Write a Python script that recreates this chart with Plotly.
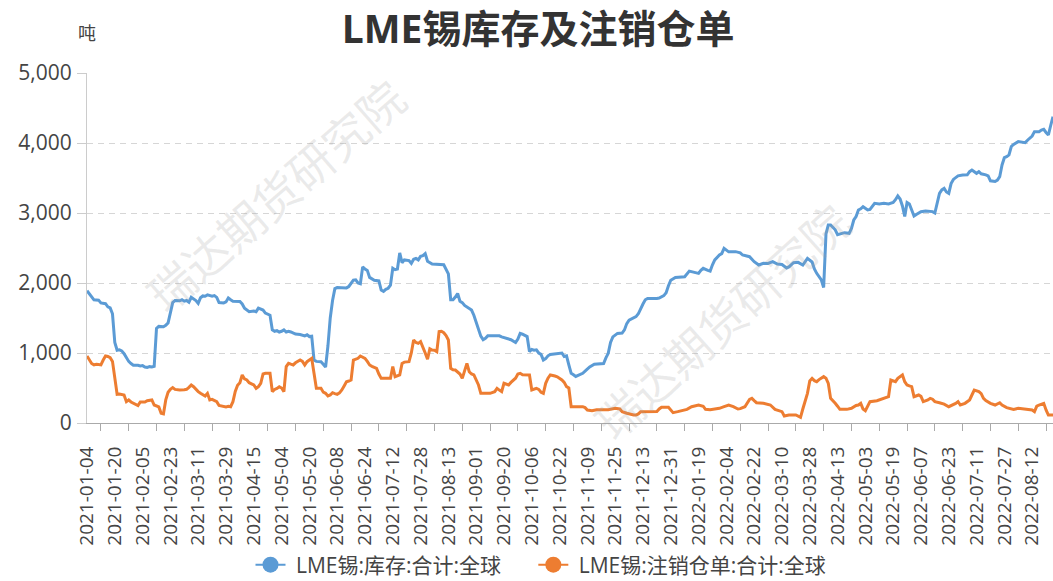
import plotly.graph_objects as go

# ---- data ----
tick_labels = ["2021-01-04", "2021-01-20", "2021-02-05", "2021-02-23", "2021-03-11", "2021-03-29",
               "2021-04-15", "2021-05-04", "2021-05-20", "2021-06-08", "2021-06-24", "2021-07-12",
               "2021-07-28", "2021-08-13", "2021-09-01", "2021-09-20", "2021-10-06", "2021-10-22",
               "2021-11-09", "2021-11-25", "2021-12-13", "2021-12-31", "2022-01-19", "2022-02-04",
               "2022-02-22", "2022-03-10", "2022-03-28", "2022-04-13", "2022-05-03", "2022-05-19",
               "2022-06-07", "2022-06-23", "2022-07-11", "2022-07-27", "2022-08-12"]
tick_step = 12          # trading days between labels
n_days = 418            # trading days shown

# LME tin stocks (trading-day number, tonnes)
stock_day = [0, 1, 2, 3, 5, 6, 8, 9, 10, 11, 12, 13, 14, 15, 16, 17, 18, 19, 20, 22, 23, 24, 25, 26, 27, 28, 29,
             30, 31, 33, 34, 35, 36, 37, 38, 40, 41, 42, 43, 44, 45, 46, 47, 48, 49, 50, 51, 52, 54, 55, 56, 57,
             59, 60, 61, 62, 63, 66, 67, 68, 69, 70, 72, 73, 74, 75, 76, 77, 79, 80, 81, 82, 83, 84, 85, 86, 87,
             88, 89, 90, 92, 93, 94, 95, 96, 97, 98, 99, 101, 102, 103, 104, 105, 106, 107, 108, 110, 112, 113,
             114, 115, 116, 117, 118, 119, 120, 121, 122, 123, 124, 126, 127, 128, 129, 130, 131, 132, 133, 134,
             135, 136, 137, 139, 140, 141, 142, 143, 144, 145, 146, 147, 148, 149, 154, 155, 156, 157, 158, 159,
             160, 161, 162, 163, 164, 166, 167, 168, 169, 170, 171, 172, 173, 176, 178, 179, 181, 183, 185, 186,
             187, 188, 190, 191, 192, 193, 194, 195, 196, 197, 198, 199, 200, 203, 205, 206, 207, 208, 209, 210,
             211, 212, 214, 215, 217, 219, 221, 223, 224, 225, 226, 227, 229, 231, 232, 233, 234, 236, 237, 238,
             239, 240, 241, 242, 246, 247, 249, 250, 251, 252, 254, 257, 258, 260, 262, 264, 265, 266, 268, 269,
             270, 271, 273, 274, 275, 276, 277, 280, 282, 283, 286, 288, 290, 292, 294, 296, 298, 300, 302, 303,
             305, 307, 309, 311, 313, 314, 315, 317, 318, 319, 320, 321, 322, 323, 324, 325, 327, 329, 330, 331,
             332, 333, 334, 335, 336, 337, 338, 339, 340, 342, 344, 346, 348, 349, 350, 351, 352, 353, 354, 355,
             356, 357, 358, 360, 362, 365, 366, 367, 368, 369, 370, 371, 372, 373, 374, 376, 378, 380, 381, 382,
             384, 385, 386, 388, 389, 390, 392, 393, 394, 395, 396, 397, 398, 399, 400, 402, 404, 405, 406, 407,
             408, 409, 411, 412, 413, 414, 415, 416, 417]
stock_val = [1890, 1850, 1795, 1760, 1755, 1715, 1705, 1660, 1645, 1560, 1150, 1040, 1045, 1030, 990, 925, 880,
             850, 825, 825, 815, 820, 800, 795, 805, 800, 810, 1350, 1380, 1375, 1395, 1430, 1600, 1720, 1750,
             1745, 1760, 1740, 1750, 1725, 1795, 1770, 1750, 1710, 1790, 1815, 1810, 1830, 1810, 1820, 1795,
             1720, 1715, 1730, 1785, 1760, 1740, 1735, 1700, 1640, 1620, 1590, 1600, 1590, 1640, 1630, 1614,
             1570, 1540, 1330, 1310, 1320, 1300, 1310, 1330, 1300, 1310, 1300, 1290, 1270, 1265, 1260, 1245,
             1260, 1235, 1240, 900, 880, 876, 840, 800, 1100, 1500, 1750, 1920, 1935, 1930, 1930, 1950, 1990,
             2040, 2045, 2000, 1990, 2230, 2200, 2180, 2080, 2060, 2040, 2030, 1900, 1880, 1910, 1925, 1970,
             2210, 2190, 2200, 2430, 2290, 2330, 2320, 2280, 2340, 2350, 2330, 2380, 2390, 2420, 2310, 2290,
             2270, 2260, 2200, 2130, 1760, 1760, 1800, 1850, 1740, 1720, 1680, 1660, 1614, 1540, 1430, 1340,
             1240, 1190, 1210, 1245, 1250, 1245, 1230, 1210, 1190, 1150, 1200, 1280, 1270, 1235, 1020, 1050,
             1040, 1045, 1000, 980, 900, 920, 960, 980, 990, 1000, 950, 960, 830, 710, 690, 665, 680, 710, 740,
             800, 840, 850, 850, 930, 995, 1150, 1230, 1280, 1285, 1330, 1420, 1470, 1510, 1520, 1560, 1640,
             1700, 1760, 1780, 1780, 1785, 1820, 1860, 1960, 2040, 2080, 2080, 2090, 2170, 2150, 2138, 2180,
             2210, 2180, 2170, 2260, 2330, 2400, 2420, 2495, 2470, 2445, 2448, 2430, 2400, 2376, 2305, 2257,
             2281, 2280, 2305, 2270, 2265, 2215, 2230, 2290, 2295, 2257, 2352, 2300, 2200, 2138, 2043, 1935,
             2700, 2829, 2830, 2790, 2760, 2690, 2700, 2719, 2710, 2780, 2900, 2950, 3043, 3060, 3090, 3070,
             3043, 3050, 3100, 3138, 3130, 3140, 3130, 3150, 3190, 3243, 3200, 3100, 2950, 3150, 3130, 3050,
             2957, 2980, 3019, 3030, 3020, 3000, 3150, 3281, 3330, 3352, 3300, 3280, 3420, 3480, 3530, 3543,
             3545, 3590, 3614, 3567, 3590, 3560, 3545, 3530, 3460, 3450, 3470, 3519, 3686, 3790, 3805, 3829,
             3950, 3980, 4020, 4010, 4005, 4040, 4067, 4100, 4162, 4162, 4185, 4195, 4150, 4114, 4250, 4376]

# LME tin cancelled warrants (trading-day number, tonnes)
cw_day = [0, 1, 2, 3, 4, 5, 6, 7, 8, 9, 10, 11, 12, 13, 14, 15, 16, 17, 18, 19, 20, 21, 22, 23, 24, 25, 26, 27,
          28, 29, 30, 31, 32, 33, 34, 35, 36, 37, 38, 40, 42, 43, 44, 45, 46, 47, 48, 49, 50, 51, 52, 53, 54, 55,
          56, 57, 59, 60, 61, 62, 63, 64, 65, 66, 67, 68, 69, 70, 71, 72, 73, 74, 75, 76, 77, 79, 80, 81, 82, 83,
          84, 85, 86, 87, 88, 89, 90, 91, 92, 93, 94, 95, 96, 97, 98, 99, 101, 102, 103, 104, 105, 106, 107, 108,
          109, 110, 111, 112, 113, 114, 115, 116, 117, 118, 119, 120, 121, 122, 123, 124, 125, 126, 127, 130,
          131, 132, 133, 135, 136, 137, 138, 139, 140, 141, 142, 143, 144, 145, 146, 147, 148, 149, 150, 151,
          152, 153, 154, 155, 156, 157, 158, 159, 160, 161, 162, 163, 164, 165, 166, 167, 168, 169, 170, 172,
          174, 176, 177, 178, 179, 180, 181, 182, 183, 184, 185, 186, 187, 188, 191, 192, 194, 195, 196, 197,
          198, 199, 200, 202, 203, 205, 206, 207, 208, 209, 211, 214, 215, 216, 218, 220, 225, 228, 230, 231,
          233, 234, 236, 237, 238, 239, 243, 246, 247, 248, 251, 252, 253, 255, 257, 259, 261, 264, 266, 267,
          269, 271, 273, 275, 277, 279, 281, 282, 284, 286, 287, 288, 289, 292, 295, 297, 299, 300, 301, 303,
          306, 307, 308, 309, 310, 311, 312, 313, 314, 315, 316, 317, 318, 319, 320, 321, 322, 323, 324, 325,
          328, 330, 332, 333, 334, 335, 336, 337, 338, 341, 344, 346, 347, 348, 349, 350, 351, 352, 353, 354,
          355, 356, 357, 359, 360, 361, 363, 364, 365, 366, 368, 370, 372, 374, 375, 376, 377, 379, 381, 382,
          383, 385, 386, 387, 388, 390, 392, 394, 395, 397, 398, 400, 402, 404, 406, 408, 409, 410, 411, 413,
          414, 415, 417]
cw_val = [957, 900, 850, 830, 840, 835, 830, 900, 957, 950, 933, 880, 600, 410, 414, 405, 400, 305, 329, 300,
          281, 270, 248, 300, 305, 300, 319, 320, 329, 257, 240, 230, 138, 130, 330, 440, 480, 505, 480, 471,
          475, 481, 510, 543, 519, 480, 448, 424, 400, 386, 424, 330, 338, 320, 305, 250, 235, 230, 240, 233,
          305, 450, 540, 576, 686, 630, 614, 576, 560, 543, 495, 520, 567, 700, 710, 710, 448, 480, 495, 519,
          500, 448, 805, 852, 840, 829, 860, 876, 900, 880, 829, 876, 900, 924, 710, 495, 495, 440, 424, 386,
          400, 433, 420, 410, 430, 471, 530, 590, 600, 614, 900, 910, 924, 957, 940, 924, 880, 829, 810, 795,
          781, 700, 638, 638, 638, 805, 662, 686, 852, 870, 876, 876, 1000, 1186, 1150, 1138, 1162, 1090, 1000,
          910, 1060, 1043, 1040, 1019, 1305, 1310, 1290, 1250, 1186, 781, 760, 757, 733, 700, 638, 757, 852,
          733, 700, 686, 600, 543, 424, 424, 424, 448, 495, 470, 448, 567, 560, 543, 580, 614, 640, 700, 710,
          690, 686, 471, 495, 480, 440, 424, 567, 640, 686, 671, 660, 614, 580, 519, 500, 233, 233, 233, 220,
          186, 176, 190, 190, 210, 200, 162, 140, 129, 115, 114, 130, 162, 162, 165, 200, 224, 224, 180, 148,
          162, 180, 195, 233, 257, 240, 195, 190, 195, 210, 233, 257, 233, 200, 205, 233, 338, 352, 320, 290,
          281, 257, 195, 170, 162, 100, 114, 114, 100, 81, 200, 305, 424, 600, 638, 605, 590, 620, 638, 662,
          640, 567, 352, 320, 281, 240, 195, 195, 210, 250, 257, 281, 200, 176, 250, 305, 319, 352, 376, 614,
          600, 590, 638, 660, 686, 590, 543, 530, 519, 376, 400, 380, 305, 329, 352, 340, 305, 290, 270, 233,
          257, 280, 305, 257, 281, 329, 400, 471, 448, 420, 352, 320, 281, 257, 290, 257, 220, 210, 195, 210,
          200, 195, 186, 162, 240, 257, 281, 186, 114, 114]

name_stock = "LME锡:库存:合计:全球"
name_cw = "LME锡:注销仓单:合计:全球"
blue = "#5B9BD5"
orange = "#ED7D31"
FONT = "Open Sans, Noto Sans CJK SC, sans-serif"
NB = "\u00a0"

fig = go.Figure()
fig.add_trace(go.Scatter(x=stock_day, y=stock_val, mode="lines", line=dict(color=blue, width=3),
                         showlegend=False, name=name_stock))
fig.add_trace(go.Scatter(x=cw_day, y=cw_val, mode="lines", line=dict(color=orange, width=3),
                         showlegend=False, name=name_cw))
# legend entries
for label, col in [(NB + name_stock + NB * 5, blue), (NB + name_cw, orange)]:
    fig.add_trace(go.Scatter(x=[None], y=[None], mode="lines+markers", name=label,
                             line=dict(color=col, width=2), marker=dict(color=col, size=17)))

tick_vals = [i * tick_step for i in range(len(tick_labels))]

fig.update_layout(
    width=1053, height=581,
    margin=dict(l=87, r=0, t=73, b=158, autoexpand=False),
    paper_bgcolor="white", plot_bgcolor="white",
    font=dict(family=FONT, color="#444"),
    title=dict(text="LME锡库存及注销仓单", x=0.511, xanchor="center", y=1 - 29 / 581, yanchor="middle",
               font=dict(size=39, color="#333", weight=700, family=FONT)),
    xaxis=dict(range=[0, n_days - 1], tickmode="array", tickvals=tick_vals, ticktext=tick_labels,
               tickangle=-90, ticks="", showgrid=False, zeroline=False, showline=True, linecolor="#aaa",
               linewidth=1, tickfont=dict(size=19, color="#444"), ticklabelstandoff=15, automargin=False,
               minor=dict(tick0=tick_step / 2, dtick=tick_step, ticks="outside", ticklen=7,
                          tickcolor="#aaa", tickwidth=1, showgrid=False)),
    yaxis=dict(range=[0, 5000], tickvals=[0, 1000, 2000, 3000, 4000, 5000], tickformat=",d",
               showgrid=True, gridcolor="#d6d6d6", griddash="6px,5px", gridwidth=1, automargin=False,
               zeroline=False, showline=True, linecolor="#ccc", linewidth=1,
               ticks="outside", ticklen=9, tickcolor="#ccc", tickfont=dict(size=21, color="#444"),
               ticklabelstandoff=1),
    legend=dict(orientation="h", xref="container", yref="container", x=541 / 1053, xanchor="center",
                y=1 - 565 / 581, yanchor="middle",
                font=dict(size=21, color="#444"), bgcolor="rgba(0,0,0,0)"),
    annotations=[
        dict(text="吨", xref="paper", yref="paper", x=0, y=(423 - 33) / 350, xanchor="center",
             yanchor="middle", showarrow=False, font=dict(size=18, color="#444")),
        dict(text="瑞达期货研究院", xref="paper", yref="paper", x=0.1955, y=0.649, xanchor="center",
             yanchor="middle", showarrow=False, textangle=-41,
             font=dict(size=46, color="rgba(160,160,160,0.22)")),
        dict(text="瑞达期货研究院", xref="paper", yref="paper", x=0.657, y=0.289, xanchor="center",
             yanchor="middle", showarrow=False, textangle=-42,
             font=dict(size=46, color="rgba(160,160,160,0.22)")),
    ],
)

fig.write_html("out.html", config={"displayModeBar": False},
               post_script="document.body.style.margin='0';document.body.style.overflow='hidden';")
